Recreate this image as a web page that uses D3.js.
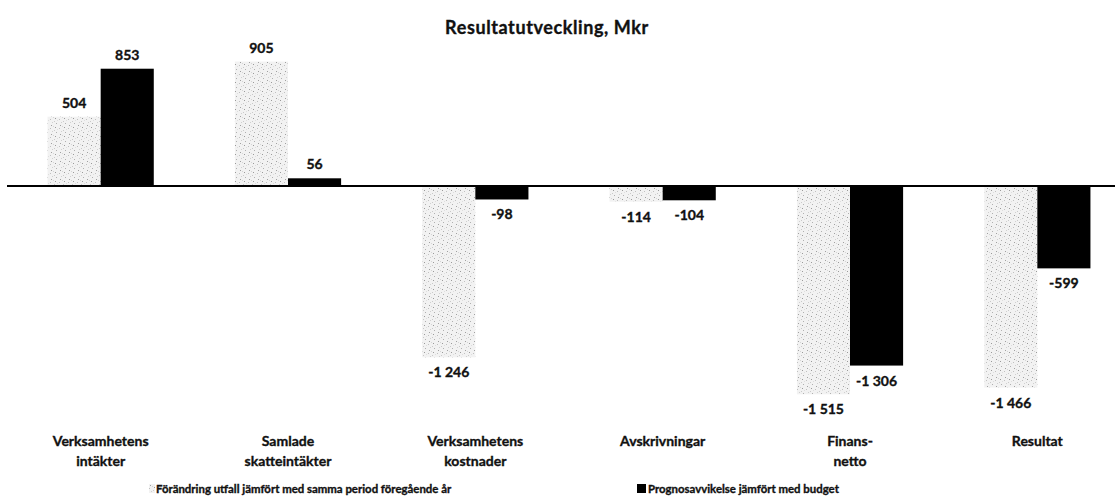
<!DOCTYPE html>
<html><head><meta charset="utf-8">
<script src="https://cdn.jsdelivr.net/npm/d3@7"></script>
<style>body{margin:0;background:#fff}svg{display:block}text{font-family:Lato,"Open Sans",sans-serif;font-weight:bold;fill:#111;stroke:#111;stroke-width:0.35}</style>
</head><body><svg id="c" width="1115" height="497"></svg>
<script>
const categories = [["Verksamhetens","intäkter"],["Samlade","skatteintäkter"],["Verksamhetens","kostnader"],["Avskrivningar"],["Finans-","netto"],["Resultat"]];
const seriesNames = ["Förändring utfall jämfört med samma period föregående år","Prognosavvikelse jämfört med budget"];
const forandring = [504, 905, -1246, -114, -1515, -1466];
const prognos = [853, 56, -98, -104, -1306, -599];

const svg = d3.select("#c");
const defs = svg.append("defs");
const pat = defs.append("pattern").attr("id","stip").attr("patternUnits","userSpaceOnUse").attr("width",9).attr("height",9);
pat.append("rect").attr("width",9).attr("height",9).attr("fill","#f2f2f2");
[[1,1,"#9a9a9a"],[5,2,"#c0c0c0"],[2,6,"#b0b0b0"],[7,5,"#d0d0d0"],[6,8,"#a0a0a0"],[0,4,"#cacaca"],[3,3,"#dedede"],[8,0,"#d6d6d6"]].forEach(([x,y,c])=>pat.append("rect").attr("x",x).attr("y",y).attr("width",1).attr("height",1).attr("fill",c));

const fmt = d3.formatLocale({decimal:",",thousands:" ",grouping:[3],currency:["",""],minus:"-"}).format(",d");
const idx = d3.range(categories.length);
const x0 = d3.scaleBand().domain(idx).range([7,1131]).paddingInner(0.433).paddingOuter(0.2165);
const x1 = d3.scaleBand().domain([0,1]).range([0,x0.bandwidth()]);
const k = 0.1375;
const y = d3.scaleLinear().domain([-1600,1000]).range([186+1600*k,186-1000*k]);

svg.append("text").attr("x",547).attr("y",34).attr("text-anchor","middle").attr("font-size",18).attr("letter-spacing",0.6).text("Resultatutveckling, Mkr");

const data = [forandring, prognos];
data.forEach((vals,s)=>{
  const g = svg.append("g");
  g.selectAll("rect").data(vals).join("rect")
    .attr("x",(d,i)=>x0(i)+x1(s)).attr("width",x1.bandwidth())
    .attr("y",d=>y(Math.max(0,d))).attr("height",d=>Math.abs(y(d)-y(0)))
    .attr("fill",s===0?"url(#stip)":"#000");
  g.selectAll("text").data(vals).join("text")
    .attr("x",(d,i)=>x0(i)+x1(s)+x1.bandwidth()/2)
    .attr("y",d=>d>=0?y(d)-9:y(d)+20)
    .attr("text-anchor","middle").attr("font-size",14).text(d=>fmt(d));
});

svg.append("line").attr("x1",7).attr("x2",1115).attr("y1",y(0)).attr("y2",y(0)).attr("stroke","#000").attr("stroke-width",2);

const cl = svg.append("g");
categories.forEach((lines,i)=>{
  const t = cl.append("text").attr("text-anchor","middle").attr("font-size",14);
  lines.forEach((l,j)=>t.append("tspan").attr("x",x0(i)+x0.bandwidth()/2).attr("y",446+j*20).text(l));
});

const lg = svg.append("g");
lg.append("rect").attr("x",149).attr("y",484).attr("width",6).attr("height",9).attr("fill","url(#stip)");
lg.append("text").attr("x",156).attr("y",493).attr("font-size",11.4).text(seriesNames[0]);
lg.append("rect").attr("x",637).attr("y",484).attr("width",9).attr("height",9).attr("fill","#000");
lg.append("text").attr("x",648).attr("y",493).attr("font-size",11.4).text(seriesNames[1]);
</script></body></html>
